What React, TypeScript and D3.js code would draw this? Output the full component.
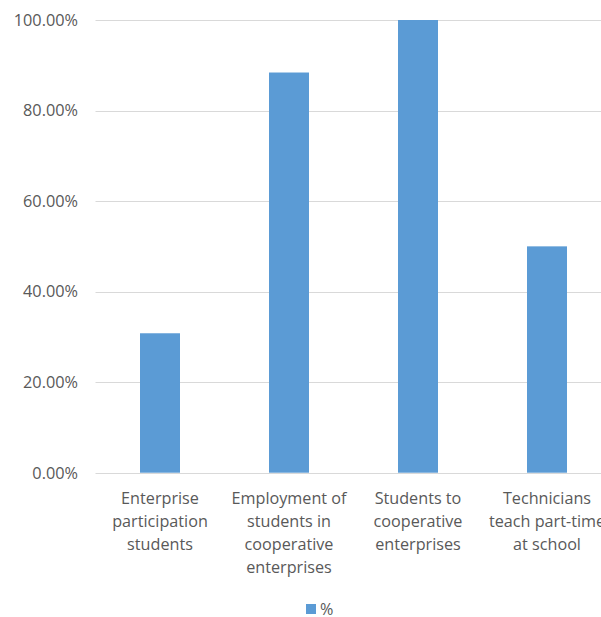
import React from "react";
import * as d3 from "d3";

const categories = [
  "Enterprise participation students",
  "Employment of students in cooperative enterprises",
  "Students to cooperative enterprises",
  "Technicians teach part-time at school",
];
const categoryLines = [
  ["Enterprise", "participation", "students"],
  ["Employment of", "students in", "cooperative", "enterprises"],
  ["Students to", "cooperative", "enterprises"],
  ["Technicians", "teach part-time", "at school"],
];
const values = [0.308, 0.884, 1.0, 0.5];
const yTicks = [0, 0.2, 0.4, 0.6, 0.8, 1.0];
const seriesName = "%";

const W = 601;
const H = 617;
const FONT = "'Open Sans', sans-serif";
const TEXT = "#595959";
const BAR = "#5b9bd5";
const GRID = "#d9d9d9";

export default function App() {
  const x = d3
    .scaleBand<string>()
    .domain(categories)
    .range([95.5, 611.5])
    .paddingInner(0.69)
    .paddingOuter(0.345);
  const y = d3.scaleLinear().domain([0, 1]).range([472.7, 20]);
  const fmt = d3.format(".2%");

  return (
    <svg
      width={W}
      height={H}
      style={{ position: "absolute", left: 0, top: 0, background: "#fff" }}
    >
      <rect x={0} y={0} width={W} height={H} fill="#fff" />
      {yTicks.map((t) => (
        <g key={t}>
          <line
            x1={95.5}
            x2={W}
            y1={Math.round(y(t)) + 0.5}
            y2={Math.round(y(t)) + 0.5}
            stroke={GRID}
            strokeWidth={1}
          />
          <text
            x={78}
            y={y(t)}
            dy="0.36em"
            textAnchor="end"
            fontFamily={FONT}
            fontSize={16.3}
            fill={TEXT}
          >
            {fmt(t)}
          </text>
        </g>
      ))}
      {categories.map((c, i) => (
        <rect
          key={c}
          x={x(c)}
          y={y(values[i])}
          width={x.bandwidth()}
          height={y(0) - y(values[i])}
          fill={BAR}
        />
      ))}
      {categories.map((c, i) => (
        <text
          key={c}
          textAnchor="middle"
          fontFamily={FONT}
          fontSize={16.2}
          fill={TEXT}
        >
          {categoryLines[i].map((ln, j) => (
            <tspan key={j} x={(x(c) as number) + x.bandwidth() / 2} y={498 + j * 23.2} dy="0.36em">
              {ln}
            </tspan>
          ))}
        </text>
      ))}
      <rect x={306} y={604} width={10} height={10} fill={BAR} />
      <text
        x={320}
        y={609}
        dy="0.36em"
        fontFamily={FONT}
        fontSize={16.2}
        fill={TEXT}
      >
        {seriesName}
      </text>
    </svg>
  );
}
